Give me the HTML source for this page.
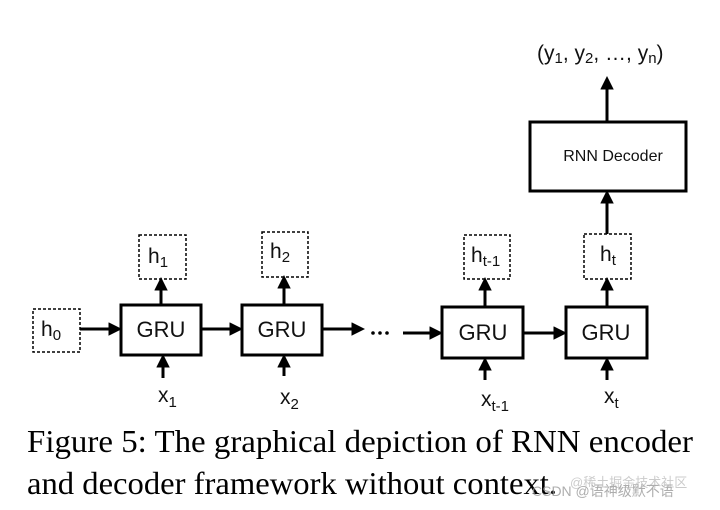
<!DOCTYPE html>
<html><head><meta charset="utf-8"><style>
html,body{margin:0;padding:0;background:#fff;width:720px;height:510px;overflow:hidden}
svg text{font-family:"Liberation Sans","DejaVu Sans",sans-serif}
</style></head><body>
<svg width="720" height="510" viewBox="0 0 720 510" xmlns="http://www.w3.org/2000/svg">
<defs>
<marker id="a" markerWidth="4.5" markerHeight="4.5" refX="3.5" refY="2.25" orient="auto" markerUnits="strokeWidth">
<path d="M0,0 L4.5,2.25 L0,4.5 z" fill="#000"/></marker>
</defs>
<g fill="none" stroke="#000" stroke-width="3">
<rect x="121" y="305" width="80" height="50"/>
<rect x="242" y="305" width="80" height="50"/>
<rect x="442" y="307" width="81" height="51"/>
<rect x="566" y="307" width="81" height="51"/>
<rect x="530" y="122" width="156" height="69"/>
</g>
<g fill="none" stroke="#000" stroke-width="1.5" stroke-dasharray="3,2">
<rect x="33" y="309" width="47" height="43"/>
<rect x="139" y="235" width="47" height="44"/>
<rect x="262" y="232" width="46" height="45"/>
<rect x="464" y="235" width="46" height="44"/>
<rect x="584" y="234" width="47" height="45"/>
</g>
<g stroke="#000" stroke-width="3" marker-end="url(#a)">
<line x1="80" y1="329" x2="119" y2="329"/>
<line x1="201" y1="329" x2="240" y2="329"/>
<line x1="322" y1="329" x2="362" y2="329"/>
<line x1="403" y1="333" x2="440" y2="333"/>
<line x1="523" y1="333" x2="564" y2="333"/>
<line x1="161" y1="305" x2="161" y2="280"/>
<line x1="284" y1="305" x2="284" y2="278"/>
<line x1="485" y1="307" x2="485" y2="280"/>
<line x1="607" y1="307" x2="607" y2="280"/>
<line x1="607" y1="234" x2="607" y2="193"/>
<line x1="607" y1="122" x2="607" y2="79"/>
<line x1="163" y1="378" x2="163" y2="357"/>
<line x1="284" y1="376" x2="284" y2="357"/>
<line x1="485" y1="380" x2="485" y2="360"/>
<line x1="607" y1="380" x2="607" y2="360"/>
</g>
<g fill="#000">
<circle cx="373" cy="333" r="1.8"/><circle cx="380" cy="333" r="1.8"/><circle cx="387" cy="333" r="1.8"/>
</g>
<g font-size="22" fill="#111" text-anchor="middle">
<text x="161" y="337">GRU</text>
<text x="282" y="337">GRU</text>
<text x="483" y="340">GRU</text>
<text x="606" y="340">GRU</text>
</g>
<text x="613" y="161" font-size="16" text-anchor="middle" fill="#111">RNN Decoder</text>
<g font-size="21" fill="#111">
<text x="41" y="336">h<tspan font-size="15" dy="4">0</tspan></text>
<text x="148" y="263">h<tspan font-size="15" dy="4">1</tspan></text>
<text x="270" y="258">h<tspan font-size="15" dy="4">2</tspan></text>
<text x="471" y="262">h<tspan font-size="15" dy="4">t-1</tspan></text>
<text x="600" y="261">h<tspan font-size="15" dy="4">t</tspan></text>
<text x="158" y="402">x<tspan font-size="15" dy="5">1</tspan></text>
<text x="280" y="404">x<tspan font-size="15" dy="5">2</tspan></text>
<text x="481" y="406">x<tspan font-size="15" dy="5">t-1</tspan></text>
<text x="604" y="403">x<tspan font-size="15" dy="5">t</tspan></text>
<text x="537" y="60">(y<tspan font-size="15" dy="3">1</tspan><tspan dy="-3">, y</tspan><tspan font-size="15" dy="3">2</tspan><tspan dy="-3">, …, y</tspan><tspan font-size="15" dy="3">n</tspan><tspan dy="-3">)</tspan></text>
</g>
<g font-size="32" fill="#000">
<text x="27" y="452" style="font-family:'Liberation Serif',serif" textLength="666" lengthAdjust="spacingAndGlyphs">Figure 5: The graphical depiction of RNN encoder</text>
<text x="27" y="494" style="font-family:'Liberation Serif',serif" textLength="530" lengthAdjust="spacingAndGlyphs">and decoder framework without context.</text>
</g>
<text x="532" y="496" font-size="14" fill="#999" opacity="0.8" style="font-family:'Liberation Sans','Noto Sans CJK SC',sans-serif">CSDN @语神级默不语</text>
<text x="570" y="487" font-size="13" fill="#aaa" opacity="0.6" style="font-family:'Liberation Sans','Noto Sans CJK SC',sans-serif">@稀土掘金技术社区</text>
</svg>
</body></html>
